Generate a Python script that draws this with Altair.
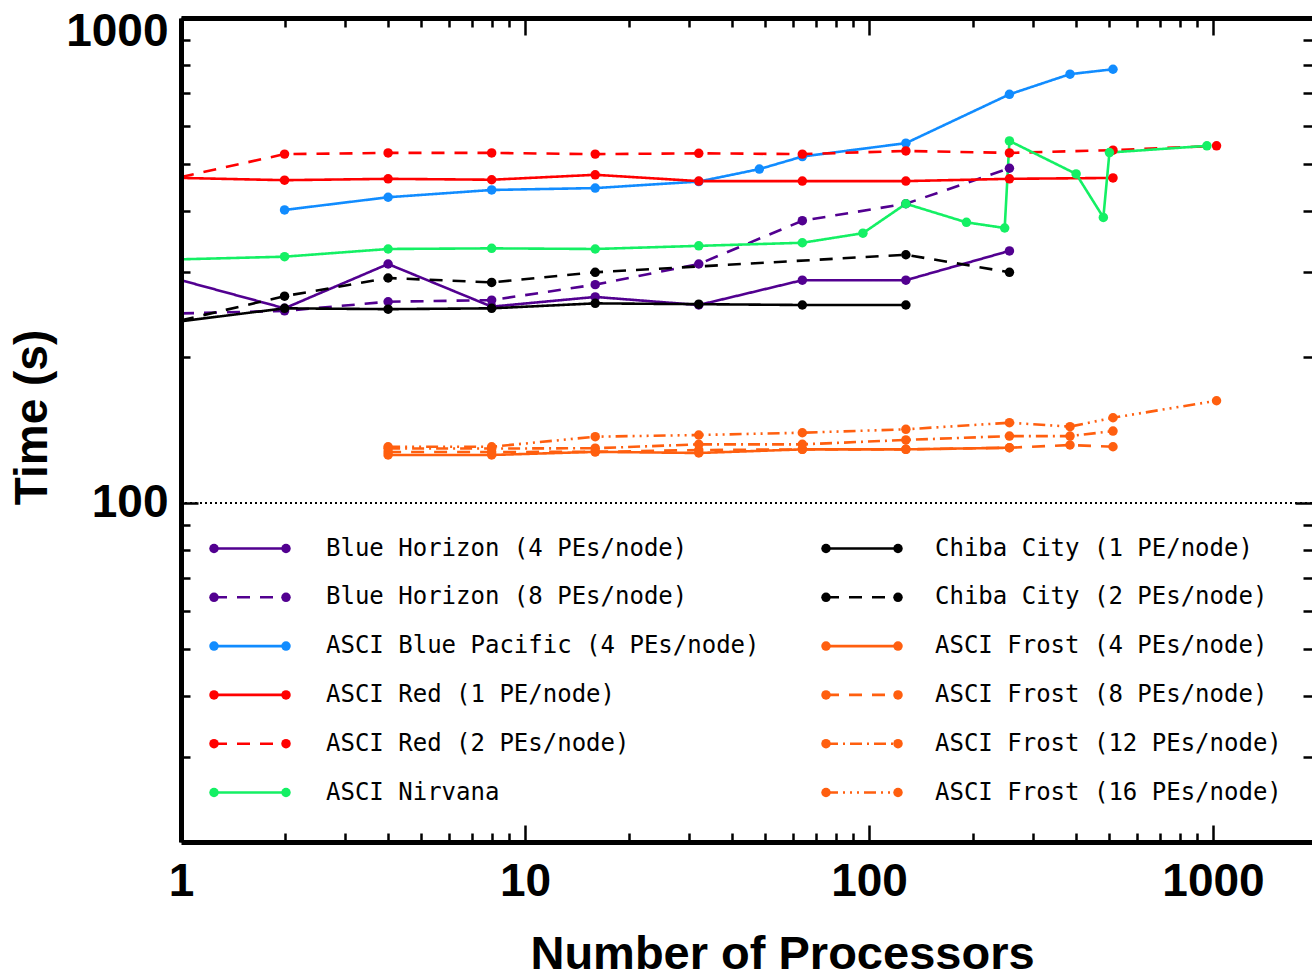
import altair as alt
import pandas as pd

# ---------------- data ----------------
series_names = [
    "Blue Horizon (4 PEs/node)", "Blue Horizon (8 PEs/node)",
    "ASCI Blue Pacific (4 PEs/node)", "ASCI Red (1 PE/node)",
    "ASCI Red (2 PEs/node)", "ASCI Nirvana",
    "Chiba City (1 PE/node)", "Chiba City (2 PEs/node)",
    "ASCI Frost (4 PEs/node)", "ASCI Frost (8 PEs/node)",
    "ASCI Frost (12 PEs/node)", "ASCI Frost (16 PEs/node)",
]

bh4_n = [1, 2, 4, 8, 16, 32, 64, 128, 256]
bh4_t = [288, 252, 311, 254, 266, 256, 288, 288, 331]

bh8_n = [1, 2, 4, 8, 16, 32, 64, 128, 256]
bh8_t = [246, 249, 260, 262, 282, 311, 382, 414, 490]

bp_n = [2, 4, 8, 16, 32, 48, 64, 128, 256, 384, 512]
bp_t = [402, 427, 442, 446, 460, 488, 518, 552, 696, 766, 784]

red1_n = [1, 2, 4, 8, 16, 32, 64, 128, 256, 512]
red1_t = [468, 463, 466, 464, 475, 461, 461, 461, 466, 468]

red2_n = [1, 2, 4, 8, 16, 32, 64, 128, 256, 512, 1024]
red2_t = [470, 524, 527, 527, 524, 526, 524, 532, 527, 534, 545]

nirv_n = [1, 2, 4, 8, 16, 32, 64, 96, 128, 192, 248, 256, 400, 480, 500, 960]
nirv_t = [318, 322, 334, 335, 334, 339, 344, 360, 414, 379, 369, 558, 477, 388, 528, 545]

chiba1_n = [1, 2, 4, 8, 16, 32, 64, 128]
chiba1_t = [237, 252, 251, 252, 258, 257, 256, 256]

chiba2_n = [1, 2, 4, 8, 16, 128, 256]
chiba2_t = [238, 267, 291, 285, 299, 325, 299]

f4_n = [4, 8, 16, 32, 64, 128, 256]
f4_t = [125.6, 125.6, 127.5, 126.8, 129.0, 129.0, 130.0]

f8_n = [4, 8, 16, 32, 64, 128, 256, 384, 512]
f8_t = [127.4, 127.4, 127.5, 128.6, 129.0, 129.0, 130.0, 131.7, 130.6]

f12_n = [4, 8, 16, 32, 64, 128, 256, 384, 512]
f12_t = [129.5, 129.5, 129.7, 132.1, 132.1, 134.9, 137.4, 137.4, 140.7]

f16_n = [4, 8, 16, 32, 64, 128, 256, 384, 512, 1024]
f16_t = [130.6, 130.6, 137.0, 138.1, 139.6, 141.9, 146.4, 143.7, 149.9, 162.5]

all_n = [bh4_n, bh8_n, bp_n, red1_n, red2_n, nirv_n,
         chiba1_n, chiba2_n, f4_n, f8_n, f12_n, f16_n]
all_t = [bh4_t, bh8_t, bp_t, red1_t, red2_t, nirv_t,
         chiba1_t, chiba2_t, f4_t, f8_t, f12_t, f16_t]

x_major = [1, 10, 100, 1000]
x_minor = [2, 3, 4, 5, 6, 7, 8, 9, 20, 30, 40, 50, 60, 70, 80, 90,
           200, 300, 400, 500, 600, 700, 800, 900]
y_major = [100, 1000]
y_minor = [30, 40, 50, 60, 70, 80, 90, 200, 300, 400, 500, 600, 700, 800, 900]
ref_lines = [100]

# ---------------- styles ----------------
PURPLE, BLUE, RED, GREEN, BLACK, ORANGE = "#520090", "#118cff", "#ff0000", "#14f064", "#000000", "#ff5f0f"
colors = [PURPLE, PURPLE, BLUE, RED, RED, GREEN, BLACK, BLACK, ORANGE, ORANGE, ORANGE, ORANGE]
SOLID, DASH = [1, 0], [13, 10]
DASHDOT = [12, 5, 2, 5]
DASH3DOT = [12, 5, 2, 5, 2, 5, 2, 5]
dashes = [SOLID, DASH, SOLID, SOLID, DASH, SOLID, SOLID, DASH, SOLID, DASH, DASHDOT, DASH3DOT]

W, H = 1131, 824
XMAX = 10 ** (W / 344.0)
FONT = "Liberation Sans"
FS = 46

rows = []
for name, ns, ts in zip(series_names, all_n, all_t):
    for n, t in zip(ns, ts):
        rows.append({"series": name, "N": n, "T": t})
df = pd.DataFrame(rows)

xs = alt.Scale(type="log", domain=[1, XMAX], nice=False)
ys = alt.Scale(type="log", domain=[20, 1000], nice=False)
cs = alt.Scale(domain=series_names, range=colors)
ds = alt.Scale(domain=series_names, range=dashes)


def tick_axis(orient, values, size, **kw):
    return alt.Axis(orient=orient, values=values, offset=-size, tickSize=size,
                    tickWidth=2.5, tickColor="black", domain=False, labels=False,
                    grid=False, title=None, zindex=1, **kw)


ax_bottom_main = alt.Axis(
    orient="bottom", values=x_major, format="d", ticks=False, domain=True,
    domainWidth=5, domainColor="black", labelFont=FONT, labelFontSize=FS,
    labelFontWeight="bold", labelColor="black", labelPadding=17, labelFlush=False,
    labelOverlap=False, grid=False, title="Number of Processors", titleFont=FONT,
    titleFontSize=47, titleFontWeight="bold", titleColor="black", titleX=601,
    titleY=126, titleAlign="center", titleBaseline="alphabetic", zindex=1)
ax_left_main = alt.Axis(
    orient="left", values=y_major, format="d", ticks=False, domain=True,
    domainWidth=5, domainColor="black", labelFont=FONT, labelFontSize=FS,
    labelFontWeight="bold", labelColor="black", labelPadding=13, labelFlush=True,
    labelFlushOffset=9, labelOverlap=False, grid=False, title="Time (s)",
    titleFont=FONT, titleFontSize=46, titleFontWeight="bold", titleColor="black",
    titleX=-135, titleY=399, titleAlign="center", titleBaseline="alphabetic",
    titleAngle=270, zindex=1)
ax_top_main = alt.Axis(orient="top", values=x_major, ticks=False, labels=False,
                       domain=True, domainWidth=5, domainColor="black", grid=False,
                       title=None, zindex=1)

MAJ, MIN = 17, 9

lines = alt.Chart(df).mark_line(strokeWidth=2.6, clip=True).encode(
    x=alt.X("N:Q", scale=xs, axis=ax_bottom_main),
    y=alt.Y("T:Q", scale=ys, axis=ax_left_main),
    color=alt.Color("series:N", scale=cs, legend=None),
    strokeDash=alt.StrokeDash("series:N", scale=ds, legend=None),
)

points = alt.Chart(df).transform_filter("datum.N > 1").mark_circle(size=90, opacity=1, clip=True).encode(
    x=alt.X("N:Q", scale=xs, axis=tick_axis("bottom", x_major, MAJ)),
    y=alt.Y("T:Q", scale=ys, axis=tick_axis("left", y_major, MAJ)),
    color=alt.Color("series:N", scale=cs, legend=None),
)


def ghost(xaxis, yaxis):
    enc = {"x": alt.X("N:Q", scale=xs, axis=xaxis)}
    enc["y"] = alt.Y("T:Q", scale=ys, axis=yaxis)
    return alt.Chart(df).mark_point(opacity=0).encode(**enc)


g1 = ghost(tick_axis("bottom", x_minor, MIN), tick_axis("left", y_minor, MIN))
g2 = ghost(ax_top_main, tick_axis("right", y_major, MAJ))
g3 = ghost(tick_axis("top", x_major, MAJ), tick_axis("right", y_minor, MIN))
g4 = ghost(tick_axis("top", x_minor, MIN), None)

ref = alt.Chart(pd.DataFrame({"y": ref_lines})).mark_rule(
    color="black", strokeWidth=2, strokeDash=[2, 3]).encode(
    y=alt.Y("y:Q", scale=ys, axis=None))

# ---------------- legend (layout from index) ----------------
LEG_SYM_X = [33, 645]
LEG_SYM_LEN = 72
LEG_TEXT_X = [145, 754]
LEG_Y0, LEG_DY = 530.5, 48.8
leg_rows, leg_text = [], []
for i, name in enumerate(series_names):
    col, row = i // 6, i % 6
    yy = LEG_Y0 + row * LEG_DY
    for k in (0, 1):
        leg_rows.append({"series": name, "lx": LEG_SYM_X[col] + k * LEG_SYM_LEN, "ly": yy})
    leg_text.append({"series": name, "lx": LEG_TEXT_X[col], "ly": yy})
leg_df = pd.DataFrame(leg_rows)
leg_tdf = pd.DataFrame(leg_text)
lxs = alt.Scale(domain=[0, W], nice=False, zero=False)
lys = alt.Scale(domain=[0, H], reverse=True, nice=False, zero=False)

leg_lines = alt.Chart(leg_df).mark_line(strokeWidth=2.6).encode(
    x=alt.X("lx:Q", scale=lxs, axis=None), y=alt.Y("ly:Q", scale=lys, axis=None),
    color=alt.Color("series:N", scale=cs, legend=None),
    strokeDash=alt.StrokeDash("series:N", scale=ds, legend=None),
)
leg_pts = alt.Chart(leg_df).mark_circle(size=90, opacity=1).encode(
    x=alt.X("lx:Q", scale=lxs, axis=None), y=alt.Y("ly:Q", scale=lys, axis=None),
    color=alt.Color("series:N", scale=cs, legend=None),
)
leg_txt = alt.Chart(leg_tdf).mark_text(
    align="left", baseline="middle", font="DejaVu Sans Mono", fontSize=24,
    color="black").encode(
    x=alt.X("lx:Q", scale=lxs, axis=None), y=alt.Y("ly:Q", scale=lys, axis=None),
    text="series:N",
)

chart = alt.layer(
    ref, lines, points, g1, g2, g3, g4, leg_lines, leg_pts, leg_txt
).resolve_scale(x="independent", y="independent").properties(
    width=W, height=H,
    padding={"left": 181, "top": 18, "right": 0, "bottom": 136},
    autosize=alt.AutoSizeParams(type="none"),
).configure_view(stroke=None).configure(background="white")

chart.save("out.html", embed_options={"renderer": "svg", "actions": False})
